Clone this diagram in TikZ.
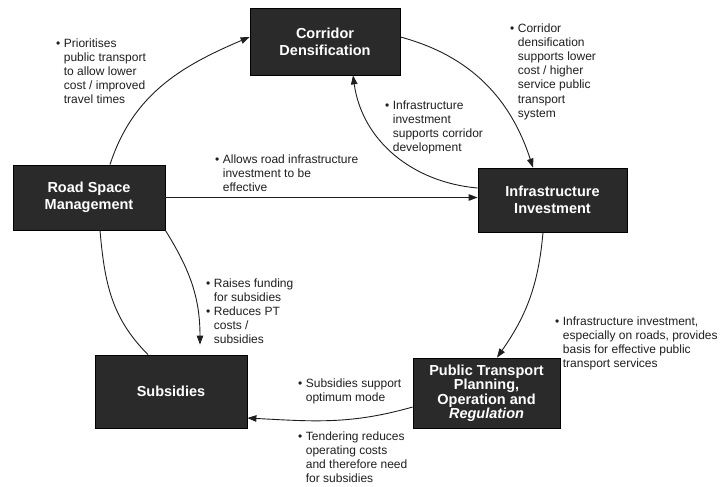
\documentclass[tikz,border=0pt]{standalone}
\usepackage{fontspec}
\setmainfont{Liberation Sans}
\usetikzlibrary{arrows.meta}
\definecolor{boxfill}{RGB}{42,42,42}
\definecolor{ink}{RGB}{30,30,30}
\newcommand\bpt{\textbullet}
\newenvironment{pts}{\begin{tabular}{@{}l@{\hspace{3.5pt}}l@{}}}{\end{tabular}}
\begin{document}
\begin{tikzpicture}[x=1pt,y=1pt,
  box/.style={draw=black,line width=0.8pt,fill=boxfill,text=white,
    font=\fontsize{14.5}{17}\selectfont\bfseries,align=center,inner sep=0pt},
  lbl/.style={anchor=north west,inner sep=0pt,text=ink,
    font=\fontsize{12}{14.2}\selectfont},
  link/.style={draw=ink,line width=0.9pt,-{Triangle[length=9pt,width=6.5pt]}},
  plain/.style={draw=ink,line width=0.9pt}]
\useasboundingbox (0,0) rectangle (720,-487);

% the five policy blocks
\node[box,minimum width=150pt,minimum height=67pt] (corr) at (325,-41.5) {Corridor\\Densification};
\node[box,minimum width=152pt,minimum height=65pt] (road) at (89,-197.5) {Road Space\\Management};
\node[box,minimum width=149pt,minimum height=64pt] (infra) at (552.5,-200) {Infrastructure\\Investment};
\node[box,minimum width=152pt,minimum height=73pt] (subs) at (171,-391.5) {Subsidies};
\node[box,minimum width=147pt,minimum height=70pt,font=\fontsize{14.5}{14.5}\selectfont\bfseries] (pt) at (486.5,-393)
  {Public Transport\\Planning,\\Operation and\\\textit{Regulation}};

% connectors
\draw[link] ([xshift=21pt]road.north) to[out=72,in=203] ([yshift=4.5pt]corr.west);
\draw[link] ([yshift=4.5pt]corr.east) to[out=-15,in=108] ([xshift=-19.5pt]infra.north);
\draw[link] ([yshift=12pt]infra.west) to[out=175,in=-82] ([xshift=28pt]corr.south);
\draw[link] (road.east) -- (road.east -| infra.west);
\draw[link] (road.south east) to[out=-58,in=90] ([shift={(29pt,10pt)}]subs.north);
\draw[plain] ([xshift=-23pt]subs.north) to[out=135,in=-85] ([xshift=11pt]road.south);
\draw[link] ([xshift=-9.5pt]infra.south) to[out=-95,in=55] ([xshift=10.5pt]pt.north);
\draw[link] ([yshift=-14pt]pt.west) to[out=196,in=-3] ([yshift=-26.5pt]subs.east);

% annotations
\node[lbl] (l1) at (56,-37) {\begin{pts}\bpt & Prioritises\\ & public transport\\ & to allow lower\\ & cost / improved\\ & travel times\end{pts}};
\node[lbl] (l2) at (510,-22) {\begin{pts}\bpt & Corridor\\ & densification\\ & supports lower\\ & cost / higher\\ & service public\\ & transport\\ & system\end{pts}};
\node[lbl] (l3) at (385,-99) {\begin{pts}\bpt & Infrastructure\\ & investment\\ & supports corridor\\ & development\end{pts}};
\node[lbl] (l4) at (215,-153) {\begin{pts}\bpt & Allows road infrastructure\\ & investment to be\\ & effective\end{pts}};
\node[lbl] (l5) at (206,-277) {\begin{pts}\bpt & Raises funding\\ & for subsidies\\ \bpt & Reduces PT\\ & costs /\\ & subsidies\end{pts}};
\node[lbl] (l6) at (555,-315) {\begin{pts}\bpt & Infrastructure investment,\\ & especially on roads, provides\\ & basis for effective public\\ & transport services\end{pts}};
\node[lbl] (l7) at (298,-377) {\begin{pts}\bpt & Subsidies support\\ & optimum mode\end{pts}};
\node[lbl] (l8) at (298,-430) {\begin{pts}\bpt & Tendering reduces\\ & operating costs\\ & and therefore need\\ & for subsidies\end{pts}};
\end{tikzpicture}
\end{document}
